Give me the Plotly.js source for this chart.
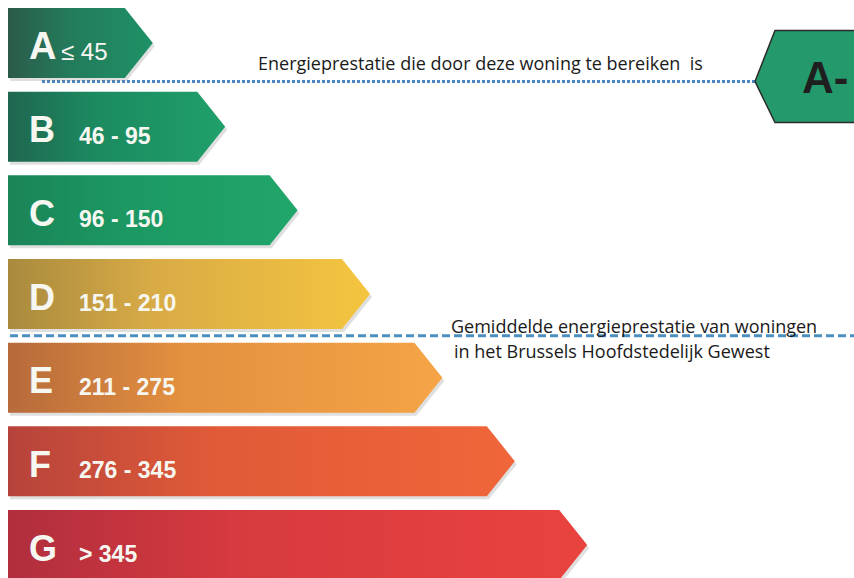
<!DOCTYPE html>
<html>
<head>
<meta charset="utf-8">
<script src="https://cdn.plot.ly/plotly-3.0.1.min.js"></script>
<style>
  html, body { margin: 0; padding: 0; background: #ffffff; }
  #plot { width: 854px; height: 578px; }
</style>
</head>
<body>
<div id="plot"></div>
<script>
// energy classes, top to bottom
let classes = ['A', 'B', 'C', 'D', 'E', 'F', 'G'];
let ranges = ['≤ 45', '46 - 95', '96 - 150', '151 - 210', '211 - 275', '276 - 345', '> 345'];
// arrow length, in class steps
let levels = [1, 2, 3, 4, 5, 6, 7];

// achieved label and the class boundary of the regional average
let achievedLabel = 'A-';
let achievedAfter = 'A';
let averageAfter = 'D';

let achievedText = 'Energieprestatie die door deze woning te bereiken&nbsp;&nbsp;is';
let averageText1 = 'Gemiddelde energieprestatie van woningen';
let averageText2 = 'in het Brussels Hoofdstedelijk Gewest';

// colours (left -> right of each arrow)
let leftCols = ['#2c5a49', '#1f6650', '#1b8457', '#a98a3e', '#b76a3b', '#b6433b', '#b02e3d'];
let midCols = ['#237a5a', '#1c8a60', '#1c9862', '#d8ab46', '#e3903f', '#e05a38', '#d83a3f'];
let rightCols = ['#1e9266', '#1fa06a', '#21a66b', '#f5c53f', '#f5a446', '#f0663a', '#e9433f'];

// geometry (x in class steps, y in rows)
let pxX = 72.4, pxY = 83.67;
let x0 = -1;
let tip = 28 / pxX;
let half = 35 / pxY;
let xRange = [x0 - 8 / pxX, x0 + 846 / pxX];
let yRange = [535 / pxY, -43 / pxY];

let traces = [];

// soft shadows under the arrows
classes.forEach((c, i) => {
    let end = levels[i];
    let dx = 2 / pxX, dy = 3 / pxY;
    traces.push({
        x: [x0 + dx, end - tip + dx, end + dx, end - tip + dx, x0 + dx, x0 + dx],
        y: [i - half + dy, i - half + dy, i + dy, i + half + dy, i + half + dy, i - half + dy],
        mode: 'lines',
        line: {width: 0},
        fill: 'toself',
        fillcolor: 'rgba(110,110,110,0.22)',
        hoverinfo: 'skip'
    });
});

// the arrows
classes.forEach((c, i) => {
    let end = levels[i];
    traces.push({
        x: [x0, end - tip, end, end - tip, x0, x0],
        y: [i - half, i - half, i, i + half, i + half, i - half],
        mode: 'lines',
        line: {width: 0},
        fill: 'toself',
        fillgradient: {
            type: 'horizontal',
            colorscale: [[0, leftCols[i]], [0.4, midCols[i]], [1, rightCols[i]]]
        },
        hoverinfo: 'skip'
    });
});

// achieved marker (hexagon on the right)
let yAch = classes.indexOf(achievedAfter) + 0.46;
let yHex = yAch - 5 / pxY;
let hexH = 46 / pxY;
let hexX = x0 + (755 - 8) / pxX;
traces.push({
    x: [hexX, hexX + 20 / pxX, hexX + 120 / pxX, hexX + 120 / pxX, hexX + 20 / pxX, hexX],
    y: [yAch, yHex - hexH, yHex - hexH, yHex + hexH, yHex + hexH, yAch],
    mode: 'lines',
    line: {color: '#2b2b2b', width: 1.5},
    fill: 'toself',
    fillcolor: '#24996b',
    hoverinfo: 'skip'
});

let yAvg = classes.indexOf(averageAfter) + 0.5;

let annotations = [];
classes.forEach((c, i) => {
    annotations.push({
        x: x0 + 19 / pxX, y: i, xref: 'x', yref: 'y',
        text: c, showarrow: false, xanchor: 'left', yanchor: 'middle',
        yshift: -3,
        font: {family: 'Liberation Sans, Arial', size: i === 0 ? 38 : 36, weight: 700, color: '#f7f7f2'}
    });
    annotations.push({
        x: x0 + (i === 0 ? 51 : 69) / pxX, y: i, xref: 'x', yref: 'y',
        text: ranges[i], showarrow: false, xanchor: 'left', yanchor: 'middle',
        yshift: i === 0 ? -8 : -9,
        font: {family: 'Liberation Sans, Arial', size: i === 0 ? 24 : 23, weight: i === 0 ? 400 : 700, color: '#f7f7f2'}
    });
});

annotations.push({
    x: x0 + (800 - 8) / pxX, y: yHex, xref: 'x', yref: 'y',
    text: achievedLabel, showarrow: false, xanchor: 'left', yanchor: 'middle',
    yshift: -1,
    font: {family: 'Liberation Sans, Arial', size: 44, weight: 700, color: '#1f1f1f'}
});
annotations.push({
    x: x0 + (256 - 8) / pxX, y: yAch, xref: 'x', yref: 'y',
    text: achievedText, showarrow: false, xanchor: 'left', yanchor: 'middle',
    yshift: 18,
    font: {family: 'Open Sans', size: 18, color: '#1a1a1a'}
});
annotations.push({
    x: x0 + (449 - 8) / pxX, y: yAvg, xref: 'x', yref: 'y',
    text: averageText1, showarrow: false, xanchor: 'left', yanchor: 'middle',
    yshift: 10,
    font: {family: 'Open Sans', size: 18, color: '#1a1a1a'}
});
annotations.push({
    x: x0 + (452 - 8) / pxX, y: yAvg, xref: 'x', yref: 'y',
    text: averageText2, showarrow: false, xanchor: 'left', yanchor: 'middle',
    yshift: -15,
    font: {family: 'Open Sans', size: 18, color: '#1a1a1a'}
});

let shapes = [
    {
        type: 'line', xref: 'x', yref: 'y',
        x0: x0 + 34 / pxX, x1: hexX, y0: yAch, y1: yAch,
        line: {color: '#4a86c2', width: 3, dash: '3px,2px'},
        layer: 'below'
    },
    {
        type: 'line', xref: 'x', yref: 'y',
        x0: x0 + 2 / pxX, x1: xRange[1], y0: yAvg, y1: yAvg,
        line: {color: '#4b8ec0', width: 3, dash: '8px,4px'},
        layer: 'above'
    }
];

let layout = {
    width: 854,
    height: 578,
    margin: {l: 0, r: 0, t: 0, b: 0, pad: 0},
    paper_bgcolor: '#ffffff',
    plot_bgcolor: '#ffffff',
    showlegend: false,
    hovermode: false,
    xaxis: {range: xRange, visible: false, fixedrange: true},
    yaxis: {range: yRange, visible: false, fixedrange: true},
    annotations: annotations,
    shapes: shapes
};

Plotly.newPlot('plot', traces, layout, {displayModeBar: false, staticPlot: true});
</script>
</body>
</html>
